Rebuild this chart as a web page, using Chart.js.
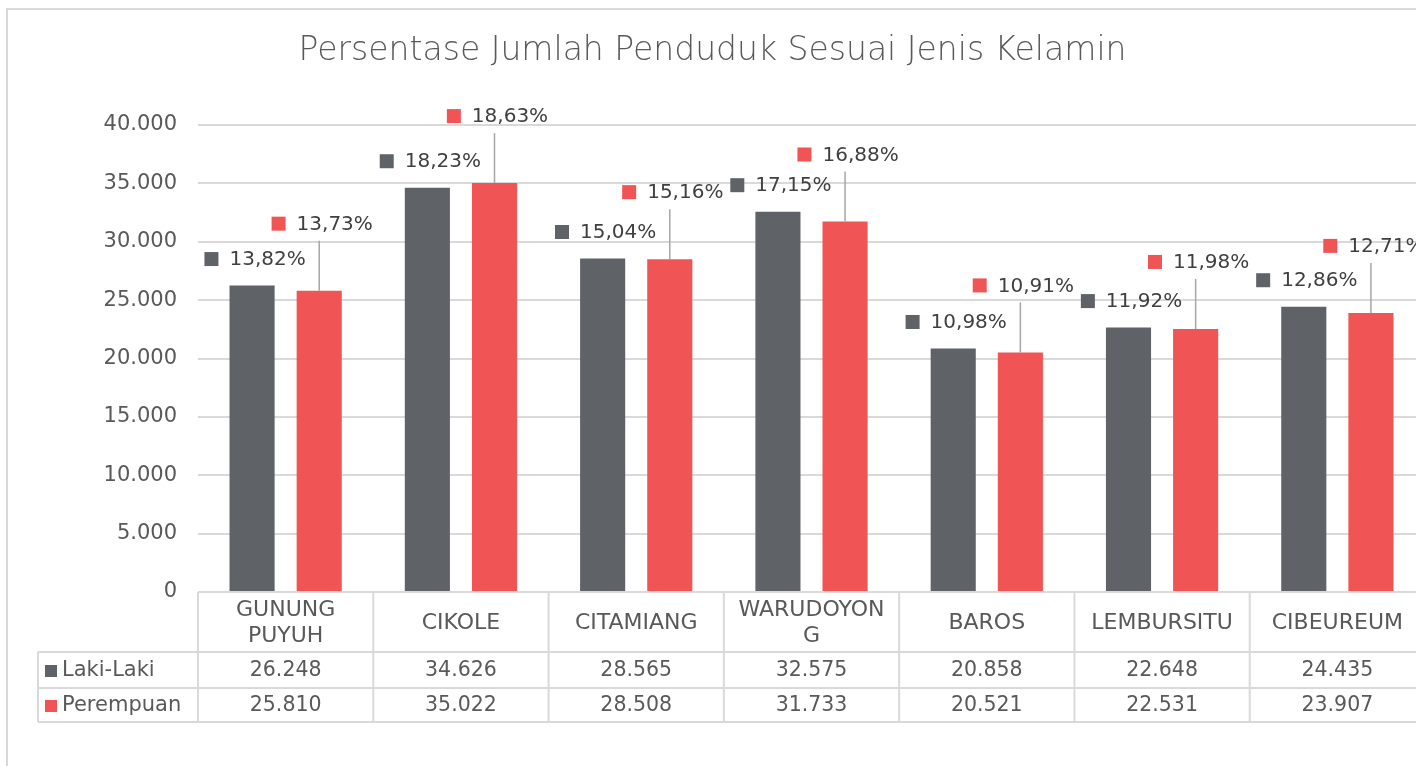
<!DOCTYPE html>
<html><head><meta charset="utf-8">
<script src="https://cdn.jsdelivr.net/npm/chart.js@4.4.1/dist/chart.umd.min.js"></script>
<style>html,body{margin:0;padding:0;overflow:hidden;background:#fff;width:1416px;height:766px}
canvas{position:absolute;left:0;top:0}</style></head>
<body><canvas id="c" width="1434" height="766"></canvas>
<script>
const categories = [["GUNUNG","PUYUH"],"CIKOLE","CITAMIANG",["WARUDOYON","G"],"BAROS","LEMBURSITU","CIBEUREUM"];
const seriesNames = ["Laki-Laki","Perempuan"];
const lakiLaki = [26248,34626,28565,32575,20858,22648,24435];
const perempuan = [25810,35022,28508,31733,20521,22531,23907];
const pctLaki = ["13,82%","18,23%","15,04%","17,15%","10,98%","11,92%","12,86%"];
const pctPerempuan = ["13,73%","18,63%","15,16%","16,88%","10,91%","11,98%","12,71%"];
const yMin = 0, yMax = 40000, yStep = 5000;

const FONT = "'DejaVu Sans', sans-serif";
const GRAY = '#5f6368', RED = '#f05454', TXT = '#595959', LINE = '#d9d9d9';
const fmt = v => String(v).replace(/\B(?=(\d{3})+(?!\d))/g, '.');

const framePlugin = {id:'frame', beforeDraw(chart){
  const ctx = chart.ctx; ctx.save();
  ctx.fillStyle = '#fff'; ctx.fillRect(0,0,chart.width,chart.height);
  ctx.strokeStyle = LINE; ctx.lineWidth = 2; ctx.strokeRect(7,9,1600,1000);
  ctx.restore();
}};

const labelPlugin = {id:'pctLabels', afterDatasetsDraw(chart){
  const ctx = chart.ctx; ctx.save();
  chart.data.datasets.forEach((ds, di) => {
    const meta = chart.getDatasetMeta(di);
    const texts = di === 0 ? pctLaki : pctPerempuan;
    meta.data.forEach((bar, i) => {
      const t = texts[i];
      ctx.font = '20px ' + FONT;
      const tw = ctx.measureText(t).width;
      const sq = 14, gap = 11;
      const total = sq + gap + tw;
      const cx = bar.x + 3;
      const cy = bar.y - (di === 0 ? 26.5 : 67);
      const x0 = cx - total/2;
      if (di === 1) {
        ctx.strokeStyle = '#a6a6a6'; ctx.lineWidth = 1.5;
        ctx.beginPath(); ctx.moveTo(bar.x, cy + 17); ctx.lineTo(bar.x, bar.y); ctx.stroke();
      }
      ctx.fillStyle = ds.backgroundColor; ctx.fillRect(x0, cy - 7, sq, 14);
      ctx.fillStyle = '#404040'; ctx.textBaseline = 'middle'; ctx.textAlign = 'left';
      ctx.fillText(t, x0 + sq + gap, cy + 1);
    });
  });
  ctx.restore();
}};

const tablePlugin = {id:'dataTable', afterDraw(chart){
  const ctx = chart.ctx, ca = chart.chartArea, x = chart.scales.x;
  const n = categories.length;
  const cw = x.getPixelForValue(1) - x.getPixelForValue(0);
  const top = ca.bottom, hdrB = top + 60, r1B = hdrB + 36, r2B = r1B + 34;
  const left0 = 38, right = chart.width + 20;
  ctx.save();
  ctx.strokeStyle = LINE; ctx.lineWidth = 2;
  ctx.beginPath();
  ctx.moveTo(ca.left, top); ctx.lineTo(right, top);
  [hdrB, r1B, r2B].forEach(y => { ctx.moveTo(left0, y); ctx.lineTo(right, y); });
  ctx.moveTo(left0, hdrB); ctx.lineTo(left0, r2B);
  for (let i = 0; i <= n; i++) {
    const bx = x.getPixelForValue(i) - cw/2;
    ctx.moveTo(bx, top); ctx.lineTo(bx, r2B);
  }
  ctx.stroke();
  ctx.fillStyle = TXT; ctx.textAlign = 'center'; ctx.textBaseline = 'middle';
  ctx.font = '22px ' + FONT;
  categories.forEach((c, i) => {
    const px = x.getPixelForValue(i);
    const lines = Array.isArray(c) ? c : [c];
    const mid = (top + hdrB)/2 + 1;
    lines.forEach((l, k) => ctx.fillText(l, px, mid + (k - (lines.length-1)/2) * 26));
  });
  const rows = [lakiLaki, perempuan];
  const rowMid = [(hdrB + r1B)/2 + 1, (r1B + r2B)/2 + 1];
  const cols = [GRAY, RED];
  rows.forEach((r, ri) => {
    ctx.textAlign = 'center';
    ctx.fillStyle = TXT;
    ctx.font = '20.5px ' + FONT;
    r.forEach((v, i) => ctx.fillText(fmt(v), x.getPixelForValue(i), rowMid[ri]));
    ctx.fillStyle = cols[ri]; ctx.fillRect(45, rowMid[ri] - 6, 12, 12);
    ctx.fillStyle = TXT; ctx.textAlign = 'left';
    ctx.font = '21px ' + FONT;
    ctx.fillText(seriesNames[ri], 62, rowMid[ri]);
  });
  ctx.restore();
}};

new Chart(document.getElementById('c'), {
  type: 'bar',
  data: {
    labels: categories,
    datasets: [
      {label: seriesNames[0], data: lakiLaki, backgroundColor: GRAY, categoryPercentage: 0.766, barPercentage: 0.672},
      {label: seriesNames[1], data: perempuan, backgroundColor: RED, categoryPercentage: 0.766, barPercentage: 0.672}
    ]
  },
  options: {
    responsive: false, animation: false, devicePixelRatio: 1,
    layout: {padding: {left: 0, right: 9, top: 0, bottom: 44}},
    plugins: {
      legend: {display: false}, tooltip: {enabled: false},
      title: {display: true, text: 'Persentase Jumlah Penduduk Sesuai Jenis Kelamin',
        color: TXT, font: {family: FONT, size: 33, weight: '300'}, padding: {top: 32, bottom: 53.4}}
    },
    scales: {
      x: {grid: {display: false}, border: {display: false}, ticks: {display: false},
          afterFit: s => { s.height = 130; }},
      y: {min: yMin, max: yMax, grid: {color: LINE, lineWidth: 2, drawTicks: false}, border: {display: false},
          ticks: {stepSize: yStep, padding: 21, color: TXT, font: {family: FONT, size: 21}, callback: v => fmt(v)},
          afterFit: s => { s.width = 198; }}
    }
  },
  plugins: [framePlugin, labelPlugin, tablePlugin]
});
</script></body></html>
